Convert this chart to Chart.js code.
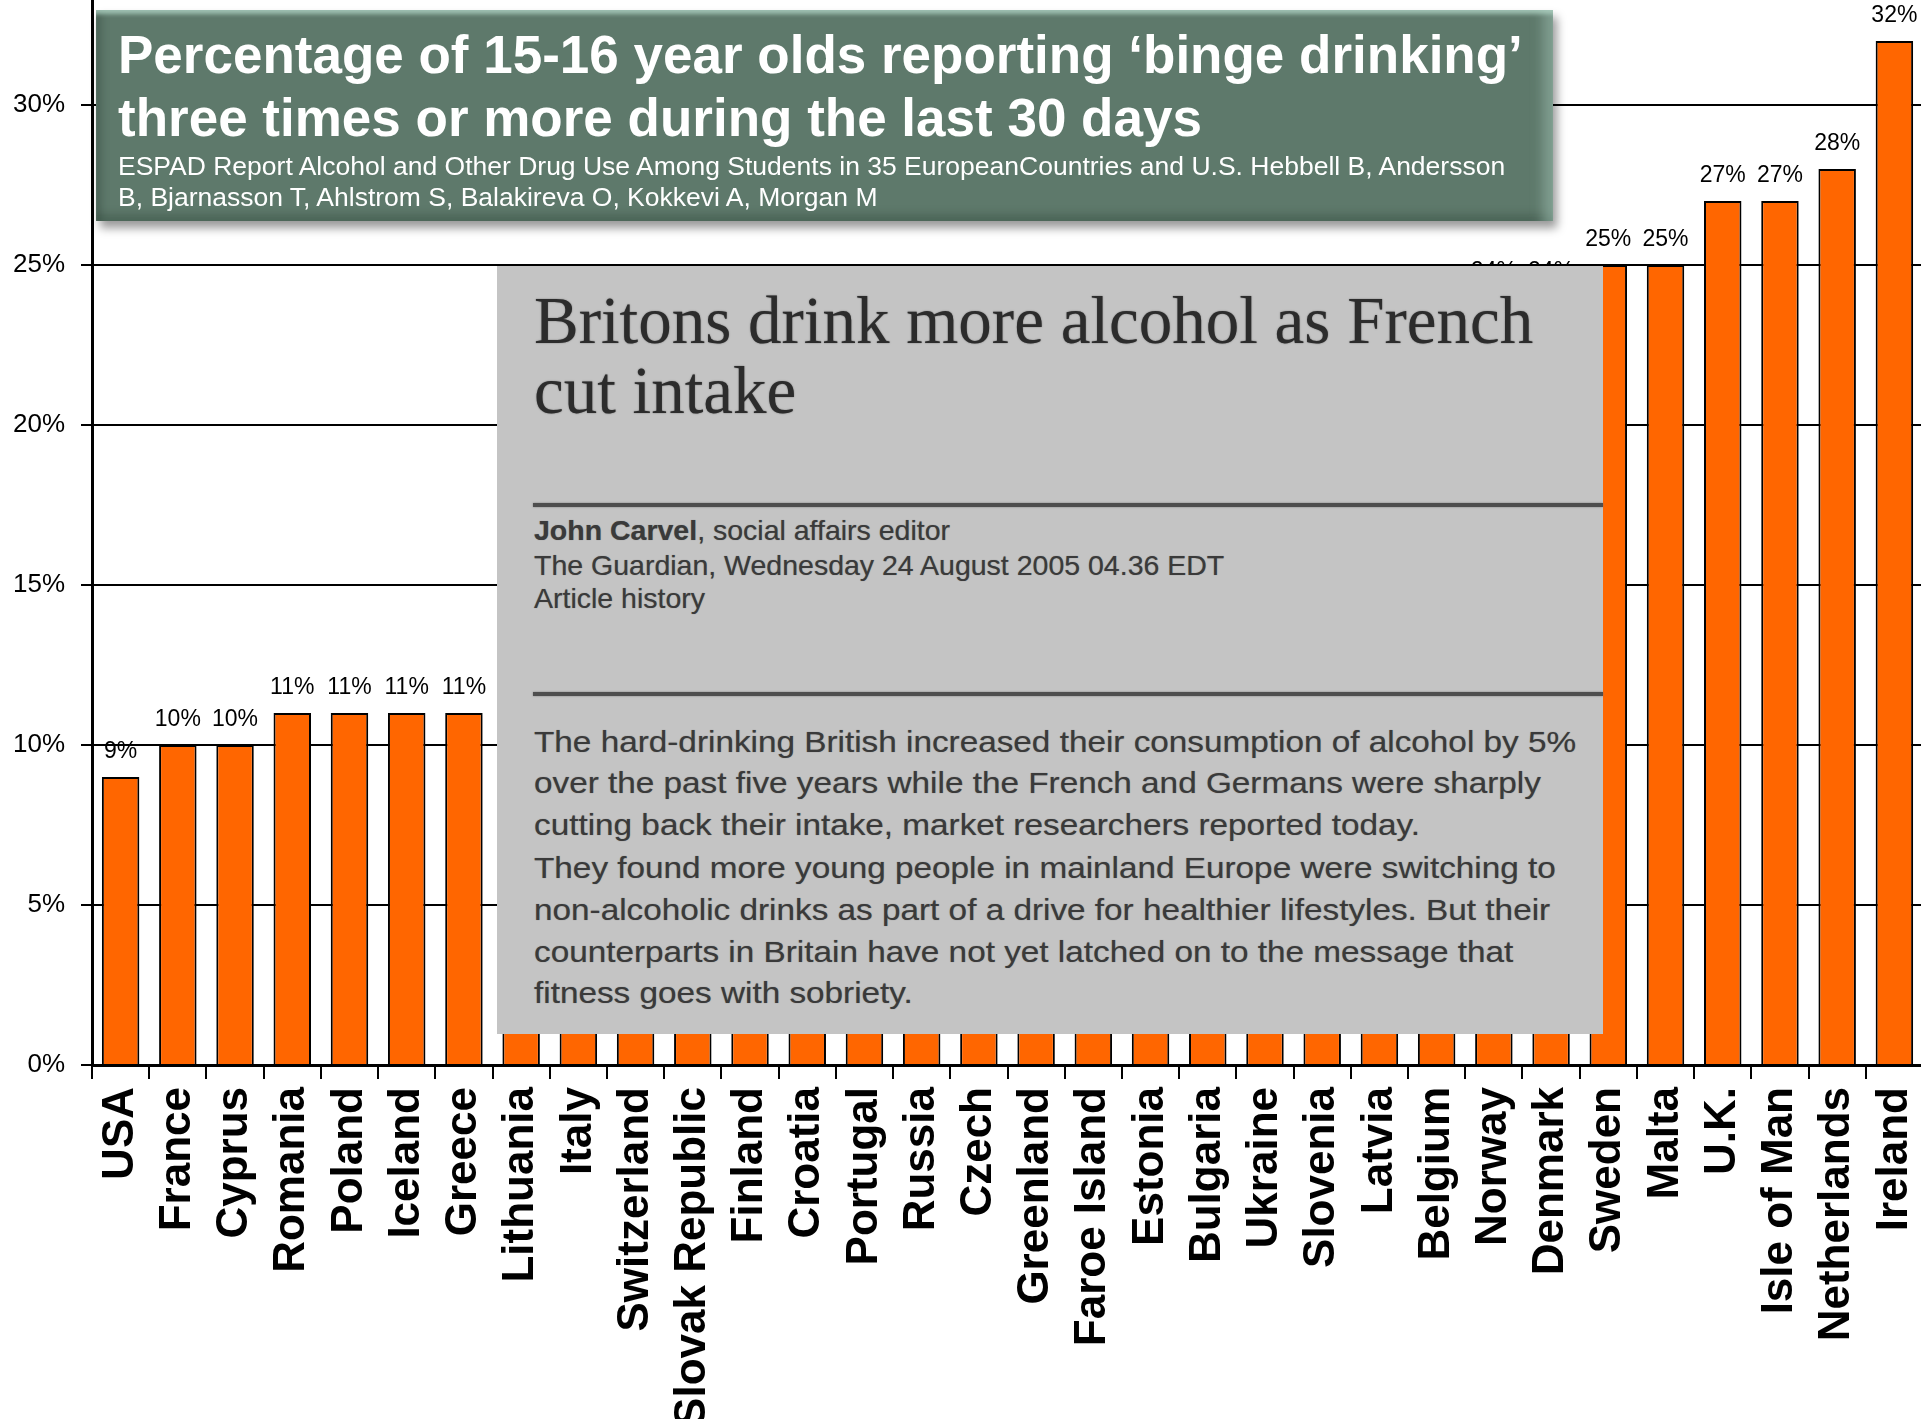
<!DOCTYPE html>
<html>
<head>
<meta charset="utf-8">
<script src="https://cdn.jsdelivr.net/npm/chart.js@4.4.1/dist/chart.umd.min.js"></script>
<style>
  body { margin: 0; background: #fff; overflow: hidden; }
  #wrap { position: relative; width: 1921px; height: 1419px; overflow: hidden; }
  #chart { position: absolute; left: 0; top: 0; }
  .t { position: absolute; white-space: nowrap; line-height: 1; transform-origin: 0 0; }
  #titleBox {
    position: absolute; left: 96px; top: 10px; width: 1457px; height: 211px;
    background: #5e796b;
    box-shadow:
      inset 0 6px 4px -2px rgba(175, 210, 195, 0.8),
      inset -18px 0 12px -8px rgba(150, 182, 168, 0.6),
      inset 10px 0 8px -6px rgba(40, 60, 50, 0.45),
      inset 0 -12px 10px -6px rgba(40, 60, 50, 0.35),
      4px 7px 9px rgba(0, 0, 0, 0.4);
  }
  .title { color: #fff; font-family: "Liberation Sans", Arial, sans-serif; font-weight: bold; font-size: 53px; }
  .sub { color: #fff; font-family: "Liberation Sans", Arial, sans-serif; font-size: 26.5px; }
  #clip { position: absolute; left: 497px; top: 266px; width: 1106px; height: 768px; background: #c4c4c4; }
  .head { color: #2c2c2c; font-family: "Liberation Serif", "Times New Roman", serif; font-size: 67px; text-shadow: 0 0 1.5px rgba(0,0,0,0.5); }
  .meta { color: #3a3a3a; font-family: "Liberation Sans", Arial, sans-serif; font-size: 28.5px; text-shadow: 0 0 1px rgba(0,0,0,0.4); }
  .body { color: #3a3a3a; font-family: "Liberation Sans", Arial, sans-serif; font-size: 30px; transform: scaleX(1.11); text-shadow: 0 0 1px rgba(0,0,0,0.4); }
  .rule { position: absolute; left: 533px; width: 1070px; height: 4px; background: #4e4e4e; box-shadow: 0 0 2px #777; }
</style>
</head>
<body>
<div id="wrap">
  <canvas id="chart" width="1923" height="1419"></canvas>

  <div id="titleBox"></div>
  <div class="t title" style="left:118px; top:28px;">Percentage of 15-16 year olds reporting ‘binge drinking’</div>
  <div class="t title" style="left:118px; top:91px;">three times or more during the last 30 days</div>
  <div class="t sub" style="left:118px; top:153px;">ESPAD Report Alcohol and Other Drug Use Among Students in 35 EuropeanCountries and U.S. Hebbell B, Andersson</div>
  <div class="t sub" style="left:118px; top:184px;">B, Bjarnasson T, Ahlstrom S, Balakireva O, Kokkevi A, Morgan M</div>

  <div id="clip"></div>
  <div class="t head" style="left:534px; top:287px;">Britons drink more alcohol as French</div>
  <div class="t head" style="left:534px; top:357px;">cut intake</div>
  <div class="rule" style="top:503px;"></div>
  <div class="t meta" style="left:534px; top:516px;"><b>John Carvel</b>, social affairs editor</div>
  <div class="t meta" style="left:534px; top:551px;">The Guardian, Wednesday 24 August 2005 04.36 EDT</div>
  <div class="t meta" style="left:534px; top:584px;">Article history</div>
  <div class="rule" style="top:692px;"></div>
  <div class="t body" style="left:534px; top:727px;">The hard-drinking British increased their consumption of alcohol by 5%</div>
  <div class="t body" style="left:534px; top:768px;">over the past five years while the French and Germans were sharply</div>
  <div class="t body" style="left:534px; top:810px;">cutting back their intake, market researchers reported today.</div>
  <div class="t body" style="left:534px; top:853px;">They found more young people in mainland Europe were switching to</div>
  <div class="t body" style="left:534px; top:895px;">non-alcoholic drinks as part of a drive for healthier lifestyles. But their</div>
  <div class="t body" style="left:534px; top:937px;">counterparts in Britain have not yet latched on to the message that</div>
  <div class="t body" style="left:534px; top:978px;">fitness goes with sobriety.</div>
</div>

<script>
// Các quốc gia (theo thứ tự trên trục x)
const countries = ['USA', 'France', 'Cyprus', 'Romania', 'Poland', 'Iceland', 'Greece',
    'Lithuania', 'Italy', 'Switzerland', 'Slovak Republic', 'Finland', 'Croatia', 'Portugal',
    'Russia', 'Czech', 'Greenland', 'Faroe Island', 'Estonia', 'Bulgaria', 'Ukraine',
    'Slovenia', 'Latvia', 'Belgium', 'Norway', 'Denmark', 'Sweden', 'Malta', 'U.K.',
    'Isle of Man', 'Netherlands', 'Ireland'];

// Phần trăm (các cột bị che bởi bài báo được ước lượng)
const values = [9, 10, 10, 11, 11, 11, 11,
    12, 13, 14, 14, 15, 16, 16,
    17, 18, 18, 19, 19, 20, 20,
    21, 22, 23, 24, 24, 25, 25, 27,
    27, 28, 32];

// Trục y
const yMin = 0;
const yMax = 33.28;
const yStep = 5;

const FONT = '"Liberation Sans", Arial, sans-serif';

// Vẽ nhãn giá trị phía trên mỗi cột
const valueLabels = {
    id: 'valueLabels',
    afterDatasetsDraw(chart) {
        const ctx = chart.ctx;
        const meta = chart.getDatasetMeta(0);
        ctx.save();
        ctx.font = '23px ' + FONT;
        ctx.fillStyle = '#000';
        ctx.textAlign = 'center';
        ctx.textBaseline = 'alphabetic';
        meta.data.forEach((bar, i) => {
            ctx.fillText(values[i] + '%', bar.x, bar.y - 19);
        });
        ctx.restore();
    }
};

const ctx = document.getElementById('chart').getContext('2d');
new Chart(ctx, {
    type: 'bar',
    data: {
        labels: countries,
        datasets: [{
            data: values,
            backgroundColor: '#ff6600',
            borderColor: '#000',
            borderWidth: 2,
            borderSkipped: 'bottom',
            categoryPercentage: 1,
            barPercentage: 0.655
        }]
    },
    options: {
        responsive: false,
        animation: false,
        devicePixelRatio: 1,
        layout: { padding: 0 },
        plugins: {
            legend: { display: false },
            tooltip: { enabled: false }
        },
        scales: {
            x: {
                grid: {
                    display: true,
                    drawOnChartArea: false,
                    drawTicks: true,
                    tickLength: 14,
                    color: '#000',
                    lineWidth: 2
                },
                border: { display: true, color: '#000', width: 3 },
                ticks: {
                    autoSkip: false,
                    minRotation: 90,
                    maxRotation: 90,
                    padding: 8,
                    color: '#000',
                    font: { family: FONT, size: 44, weight: 'bold' }
                },
                afterFit(scale) {
                    scale.height = 354;
                    scale.paddingLeft = 0;
                    scale.paddingRight = 0;
                }
            },
            y: {
                min: yMin,
                max: yMax,
                grid: {
                    color: '#000',
                    lineWidth: 2,
                    tickLength: 11
                },
                border: { display: true, color: '#000', width: 3 },
                ticks: {
                    stepSize: yStep,
                    includeBounds: false,
                    padding: 16,
                    color: '#000',
                    font: { family: FONT, size: 26 },
                    callback: v => v + '%'
                },
                afterFit(scale) {
                    scale.width = 92;
                    scale.paddingTop = 0;
                    scale.paddingBottom = 0;
                }
            }
        }
    },
    plugins: [valueLabels]
});
</script>
</body>
</html>
